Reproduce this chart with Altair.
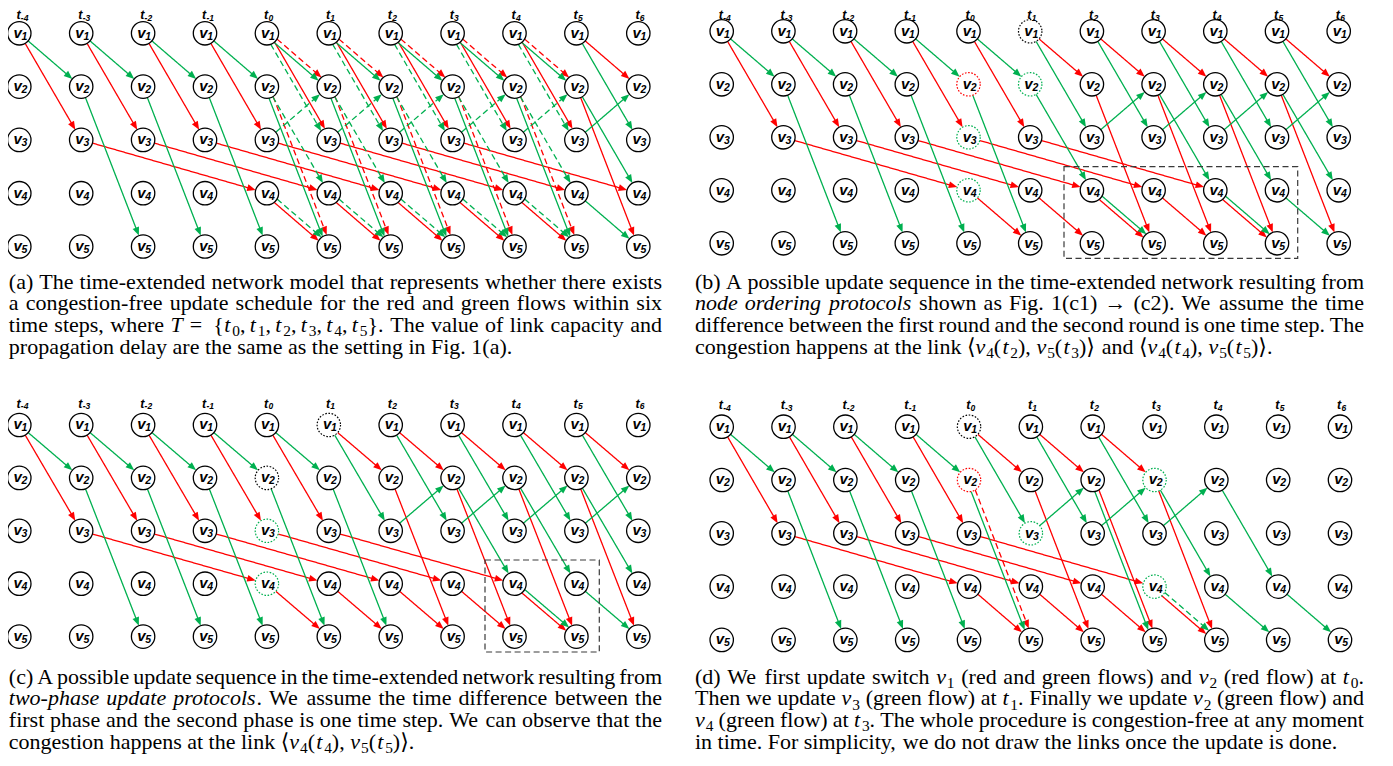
import math
import altair as alt
import pandas as pd

# ---------------------------------------------------------------- data
TIME_STEPS = [-4, -3, -2, -1, 0, 1, 2, 3, 4, 5, 6]
SWITCHES = [1, 2, 3, 4, 5]

# (flow, line style, from switch, to switch, steps spanned, start times)
EDGES = {
    "a": [
        ("red", "solid", 1, 3, 1, [-4, -3, -2, -1, 0, 1, 2, 3, 4]),
        ("red", "solid", 3, 4, 3, [-3, -2, -1, 0, 1, 2, 3]),
        ("red", "solid", 4, 5, 1, [0, 1, 2, 3, 4]),
        ("red", "solid", 1, 2, 1, [5]),
        ("red", "solid", 2, 5, 1, [5]),
        ("red", "dashed", 1, 2, 1, [0, 1, 2, 3, 4]),
        ("red", "dashed", 2, 5, 1, [0, 1, 2, 3, 4]),
        ("green", "solid", 1, 2, 1, [-4, -3, -2, -1, 0, 1, 2, 3, 4]),
        ("green", "solid", 2, 5, 1, [-3, -2, -1, 0, 1, 2, 3, 4]),
        ("green", "solid", 1, 3, 1, [5]),
        ("green", "solid", 3, 2, 1, [5]),
        ("green", "solid", 2, 4, 1, [5]),
        ("green", "solid", 4, 5, 1, [5]),
        ("green", "dashed", 1, 3, 1, [0, 1, 2, 3, 4]),
        ("green", "dashed", 3, 2, 1, [0, 1, 2, 3, 4]),
        ("green", "dashed", 2, 4, 1, [0, 1, 2, 3, 4]),
        ("green", "dashed", 4, 5, 1, [0, 1, 2, 3, 4]),
    ],
    "b": [
        ("red", "solid", 1, 3, 1, [-4, -3, -2, -1, 0]),
        ("red", "solid", 3, 4, 3, [-3, -2, -1, 0, 1]),
        ("red", "solid", 4, 5, 1, [0, 1, 2, 3, 4]),
        ("red", "solid", 1, 2, 1, [1, 2, 3, 4, 5]),
        ("red", "solid", 2, 5, 1, [2, 3, 4, 5]),
        ("green", "solid", 1, 2, 1, [-4, -3, -2, -1, 0]),
        ("green", "solid", 2, 5, 1, [-3, -2, -1, 0]),
        ("green", "solid", 1, 3, 1, [1, 2, 3, 4, 5]),
        ("green", "solid", 3, 2, 1, [2, 3, 4, 5]),
        ("green", "solid", 2, 4, 1, [1, 3, 4, 5]),
        ("green", "solid", 4, 5, 1, [2, 4, 5]),
    ],
    "c": [
        ("red", "solid", 1, 3, 1, [-4, -3, -2, -1, 0]),
        ("red", "solid", 3, 4, 3, [-3, -2, -1, 0, 1]),
        ("red", "solid", 4, 5, 1, [0, 1, 2, 3, 4]),
        ("red", "solid", 1, 2, 1, [1, 2, 3, 4, 5]),
        ("red", "solid", 2, 5, 1, [2, 3, 4, 5]),
        ("green", "solid", 1, 2, 1, [-4, -3, -2, -1, 0]),
        ("green", "solid", 2, 5, 1, [-3, -2, -1, 0, 1]),
        ("green", "solid", 1, 3, 1, [1, 2, 3, 4, 5]),
        ("green", "solid", 3, 2, 1, [2, 3, 4, 5]),
        ("green", "solid", 2, 4, 1, [3, 4, 5]),
        ("green", "solid", 4, 5, 1, [4, 5]),
    ],
    "d": [
        ("red", "solid", 1, 3, 1, [-4, -3, -2, -1]),
        ("red", "solid", 3, 4, 3, [-3, -2, -1, 0]),
        ("red", "solid", 4, 5, 1, [0, 1, 2, 3]),
        ("red", "solid", 1, 2, 1, [0, 1, 2]),
        ("red", "solid", 2, 5, 1, [1, 2, 3]),
        ("red", "dashed", 2, 5, 1, [0]),
        ("green", "solid", 1, 2, 1, [-4, -3, -2, -1]),
        ("green", "solid", 2, 5, 1, [-3, -2, -1, 0, 2]),
        ("green", "solid", 1, 3, 1, [0, 1, 2]),
        ("green", "solid", 3, 2, 1, [1, 2, 3]),
        ("green", "solid", 2, 4, 1, [3, 4]),
        ("green", "solid", 4, 5, 1, [4, 5]),
        ("green", "dashed", 4, 5, 1, [3]),
    ],
}

# dotted (updated) switches: (switch, time, outline colour)
DOTTED = {
    "a": [],
    "b": [(2, 0, "red"), (3, 0, "green"), (4, 0, "green"), (1, 1, "black"), (2, 1, "green")],
    "c": [(2, 0, "black"), (3, 0, "green"), (4, 0, "green"), (1, 1, "black")],
    "d": [(1, 0, "black"), (2, 0, "red"), (3, 1, "green"), (2, 3, "green"), (4, 3, "green")],
}

CAPTIONS = {
    "a": [
        "(a) The time-extended network model that represents whether there exists",
        "a congestion-free update schedule for the red and green flows within six",
        "time steps, where $T$ $=$ ${t_0,~t_1,~t_2,~t_3,~t_4,~t_5}$. The value of link capacity and",
        "propagation delay are the same as the setting in Fig. 1(a).",
    ],
    "b": [
        "(b) A possible update sequence in the time-extended network resulting from",
        "*node* *ordering* *protocols* shown as Fig. 1(c1) $→$ (c2). We assume the time",
        "difference between the first round and the second round is one time step. The",
        "congestion happens at the link $⟨v_4(t_2),~v_5(t_3)⟩$ and $⟨v_4(t_4),~v_5(t_5)⟩$.",
    ],
    "c": [
        "(c) A possible update sequence in the time-extended network resulting from",
        "*two-phase* *update* *protocols*. We assume the time difference between the",
        "first phase and the second phase is one time step. We can observe that the",
        "congestion happens at the link $⟨v_4(t_4),~v_5(t_5)⟩$.",
    ],
    "d": [
        "(d) We first update switch $v_1$ (red and green flows) and $v_2$ (red flow) at $t_0$.",
        "Then we update $v_3$ (green flow) at $t_1$. Finally we update $v_2$ (green flow) and",
        "$v_4$ (green flow) at $t_3$. The whole procedure is congestion-free at any moment",
        "in time. For simplicity, we do not draw the links once the update is done.",
    ],
}

# ---------------------------------------------------------------- layout / style
PANEL_GRID = {
    "a": dict(x0=19.3, dx=61.9, y0=33.3, dy=53.3),
    "b": dict(x0=721.7, dx=61.7, y0=31.3, dy=53.0),
    "c": dict(x0=19.3, dx=61.9, y0=425.0, dy=52.9),
    "d": dict(x0=721.7, dx=61.83, y0=426.7, dy=53.3),
}
BOXES = {"b": (1064, 166.7, 1297.7, 258.3), "c": (485, 560, 599.3, 652)}
CAPTION_FRAME = {  # left, right, first baseline
    "a": (8.8, 662, 288.5), "b": (695, 1364, 288.5),
    "c": (8.8, 662, 683.5), "d": (695, 1364, 683.5),
}
LEAD = 21.7
CAP_SIZE = 22
SUB_SCALE = 0.7
SUB_DROP = 4.5

RED, GREEN = "#FF0000", "#00B050"
R = 11.7
HEAD_LEN = 8.5
OFF = 2.2
HEAD_PATH = "M0,-1L-0.8,1L0.8,1Z"
T_FONT = 12.5
T_TOP_MIN = 19.4   # lowest baseline that keeps the top-row labels inside the page

ROMAN = {" ": 250, "(": 333, ")": 333, ",": 250, "-": 333, ".": 250,
         "A": 722, "F": 556, "T": 611, "W": 944,
         "a": 444, "b": 500, "c": 444, "d": 500, "e": 444, "f": 333, "g": 500, "h": 500,
         "i": 278, "j": 278, "k": 500, "l": 278, "m": 778, "n": 500, "o": 500, "p": 500,
         "q": 500, "r": 333, "s": 389, "t": 278, "u": 500, "v": 500, "w": 722, "x": 500,
         "y": 500, "z": 444}
for d in "0123456789":
    ROMAN[d] = 500
ITALIC = {"a": 500, "b": 500, "c": 444, "d": 500, "e": 444, "f": 278, "g": 500, "h": 500,
          "i": 278, "k": 444, "l": 278, "m": 722, "n": 500, "o": 500, "p": 500, "r": 389,
          "s": 389, "t": 278, "u": 500, "v": 444, "w": 667, "x": 444, "y": 444, "T": 556,
          "-": 333}
MATH_N = {"(": 389, ")": 389, ",": 278, "⟨": 389, "⟩": 389, "{": 500, "}": 500,
          "=": 778, "→": 1000}
MATH_I = {"v": 485, "t": 361, "T": 584}


def node_xy(p, n, t):
    g = PANEL_GRID[p]
    return g["x0"] + (t + 4) * g["dx"], g["y0"] + (n - 1) * g["dy"]


# ---------------------------------------------------------------- build tables
line_rows, head_rows = [], []
for p, groups in EDGES.items():
    flat = []
    for col, sty, a, b, steps, starts in groups:
        for t in starts:
            flat.append((col, sty, a, t, b, t + steps))
    counts = {}
    for e in flat:
        k = e[2:]
        counts[k] = counts.get(k, 0) + 1
    for col, sty, a, t, b, t2 in flat:
        sx, sy = node_xy(p, a, t)
        tx, ty = node_xy(p, b, t2)
        L = math.hypot(tx - sx, ty - sy)
        ux, uy = (tx - sx) / L, (ty - sy) / L
        nx, ny = -uy, ux
        off = 0.0
        if counts[(a, t, b, t2)] > 1:
            sign = 1 if (a, b) == (4, 5) else -1
            off = OFF * (sign if col == "red" else -sign)
        along = math.sqrt(R * R - off * off)
        x1, y1 = sx + ux * along + nx * off, sy + uy * along + ny * off
        px, py = tx - ux * along + nx * off, ty - uy * along + ny * off
        line_rows.append(dict(x=x1, y=y1, x2=px - ux * 5, y2=py - uy * 5, color=col, style=sty))
        ang = math.degrees(math.atan2(ux, -uy)) % 360
        head_rows.append(dict(x=px - ux * HEAD_LEN / 2, y=py - uy * HEAD_LEN / 2,
                              angle=ang, color=col))

node_rows, dotted_rows, vlab, vsub, tlab, tsub = [], [], [], [], [], []
for p in PANEL_GRID:
    dmap = {(n, t): c for n, t, c in DOTTED[p]}
    for t in TIME_STEPS:
        for n in SWITCHES:
            x, y = node_xy(p, n, t)
            if (n, t) in dmap:
                dotted_rows.append(dict(x=x, y=y, sc=dmap[(n, t)]))
            else:
                node_rows.append(dict(x=x, y=y))
            vlab.append(dict(x=x - 1.7, y=y + 4.3, text="v"))
            vsub.append(dict(x=x + 2.2, y=y + 6.4, text=str(n)))
        x, y = node_xy(p, 1, t)
        tb = max(y - 17.5, T_TOP_MIN)
        tlab.append(dict(x=x - 0.8, y=tb, text="t"))
        tsub.append(dict(x=x + 1.5, y=tb + 1.3, text=str(t)))

box_rows = [dict(x=b[0], y=b[1], x2=b[2], y2=b[3]) for b in BOXES.values()]


def parse_word(w):
    runs = []  # [text, style, advance_px]
    mode = "n"
    i = 0
    while i < len(w):
        c = w[i]
        if c == "*":
            mode = "i" if mode == "n" else "n"
            i += 1
            continue
        if c == "$":
            mode = "m" if mode != "m" else "n"
            i += 1
            continue
        if mode == "m":
            if c == "_":
                runs.append([w[i + 1], "s", ROMAN[w[i + 1]] / 1000 * CAP_SIZE * SUB_SCALE])
                i += 2
                continue
            if c == "~":
                runs.append(["", "thin", 0.17 * CAP_SIZE])
                i += 1
                continue
            if c.isalpha():
                st, adv = "i", MATH_I.get(c, 500)
            else:
                st, adv = "n", MATH_N.get(c, ROMAN.get(c, 500))
        elif mode == "i":
            st, adv = "i", ITALIC.get(c, ROMAN.get(c, 500))
        else:
            st, adv = "n", ROMAN.get(c, 500)
        adv = adv / 1000 * CAP_SIZE
        runs.append([c, st, adv])
        i += 1
    return runs


cap_rows = []
for p, lines in CAPTIONS.items():
    left, right, base = CAPTION_FRAME[p]
    for li, line in enumerate(lines):
        words = [parse_word(w) for w in line.split(" ")]
        widths = [sum(r[2] for r in w) for w in words]
        if li == len(lines) - 1:
            gap = 0.25 * CAP_SIZE
        else:
            gap = max((right - left - sum(widths)) / (len(words) - 1), 0.16 * CAP_SIZE)
        x = left
        y = base + li * LEAD
        for w, wd in zip(words, widths):
            cx = x
            pending = None
            for text, st, adv in w:
                if st != "thin":
                    if pending and pending["st"] == st and st != "s":
                        pending["text"] += text
                    else:
                        if pending:
                            cap_rows.append(pending)
                        pending = dict(x=cx, y=y + (SUB_DROP if st == "s" else 0),
                                       text=text, st=st)
                else:
                    if pending:
                        cap_rows.append(pending)
                    pending = None
                cx += adv
            if pending:
                cap_rows.append(pending)
            x += wd + gap

cap_df = pd.DataFrame(cap_rows)

# ---------------------------------------------------------------- chart
XS = alt.Scale(domain=[8, 1385], nice=False, zero=False)
YS = alt.Scale(domain=[8, 758], nice=False, zero=False, reverse=True)


def X(f="x"):
    return alt.X(f + ":Q", scale=XS, axis=None)


def Y(f="y"):
    return alt.Y(f + ":Q", scale=YS, axis=None)


col_enc = alt.Color("color:N", scale=alt.Scale(domain=["red", "green"], range=[RED, GREEN]),
                    legend=None)

lines = alt.Chart(pd.DataFrame(line_rows)).mark_rule(strokeWidth=1.3).encode(
    x=X(), y=Y(), x2="x2:Q", y2="y2:Q", color=col_enc,
    strokeDash=alt.StrokeDash("style:N", scale=alt.Scale(domain=["solid", "dashed"],
                                                         range=[[1, 0], [6, 3.5]]), legend=None),
)
heads = alt.Chart(pd.DataFrame(head_rows)).mark_point(
    shape=HEAD_PATH, filled=True, size=HEAD_LEN ** 2, opacity=1, strokeWidth=0
).encode(x=X(), y=Y(), color=col_enc, angle=alt.Angle("angle:Q", scale=None))

boxes = alt.Chart(pd.DataFrame(box_rows)).mark_rect(
    fillOpacity=0, stroke="#3a3a3a", strokeWidth=1.2, strokeDash=[6, 3.5]
).encode(x=X(), y=Y(), x2="x2:Q", y2="y2:Q")

nodes = alt.Chart(pd.DataFrame(node_rows)).mark_point(
    shape="circle", filled=True, color="white", stroke="black", strokeWidth=1.3,
    size=(2 * R) ** 2, opacity=1
).encode(x=X(), y=Y())

dotted = alt.Chart(pd.DataFrame(dotted_rows)).mark_point(
    shape="circle", filled=True, color="white", strokeWidth=1.2, strokeDash=[1.6, 1.6],
    size=(2 * R) ** 2, opacity=1
).encode(x=X(), y=Y(), stroke=alt.Stroke("sc:N", scale=alt.Scale(
    domain=["black", "red", "green"], range=["#000000", RED, GREEN]), legend=None))

SANS = "Liberation Sans, Arial, sans-serif"
SERIF = "Liberation Serif, Times New Roman, DejaVu Serif, serif"


def txt(rows, size, align):
    return alt.Chart(pd.DataFrame(rows)).mark_text(
        align=align, baseline="alphabetic", font=SANS, fontSize=size,
        fontStyle="italic", fontWeight="bold", color="black"
    ).encode(x=X(), y=Y(), text="text:N")


v_text = txt(vlab, 15, "center")
v_sub = txt(vsub, 10.5, "left")
t_text = txt(tlab, T_FONT, "center")
t_sub = txt(tsub, 8.5, "left")


def cap(st, size, style):
    return alt.Chart(cap_df[cap_df.st == st]).mark_text(
        align="left", baseline="alphabetic", font=SERIF, fontSize=size,
        fontStyle=style, color="black"
    ).encode(x=X(), y=Y(), text="text:N")


cap_n = cap("n", CAP_SIZE, "normal")
cap_i = cap("i", CAP_SIZE, "italic")
cap_s = cap("s", CAP_SIZE * SUB_SCALE, "normal")

chart = alt.layer(
    lines, heads, boxes, nodes, dotted, v_text, v_sub, t_text, t_sub, cap_n, cap_i, cap_s
).properties(
    width=1377, height=750, padding=0, autosize=alt.AutoSizeParams(type="none"),
    background="white"
).configure_view(stroke=None)

chart.save("out.html", embed_options={"renderer": "svg", "actions": False})
